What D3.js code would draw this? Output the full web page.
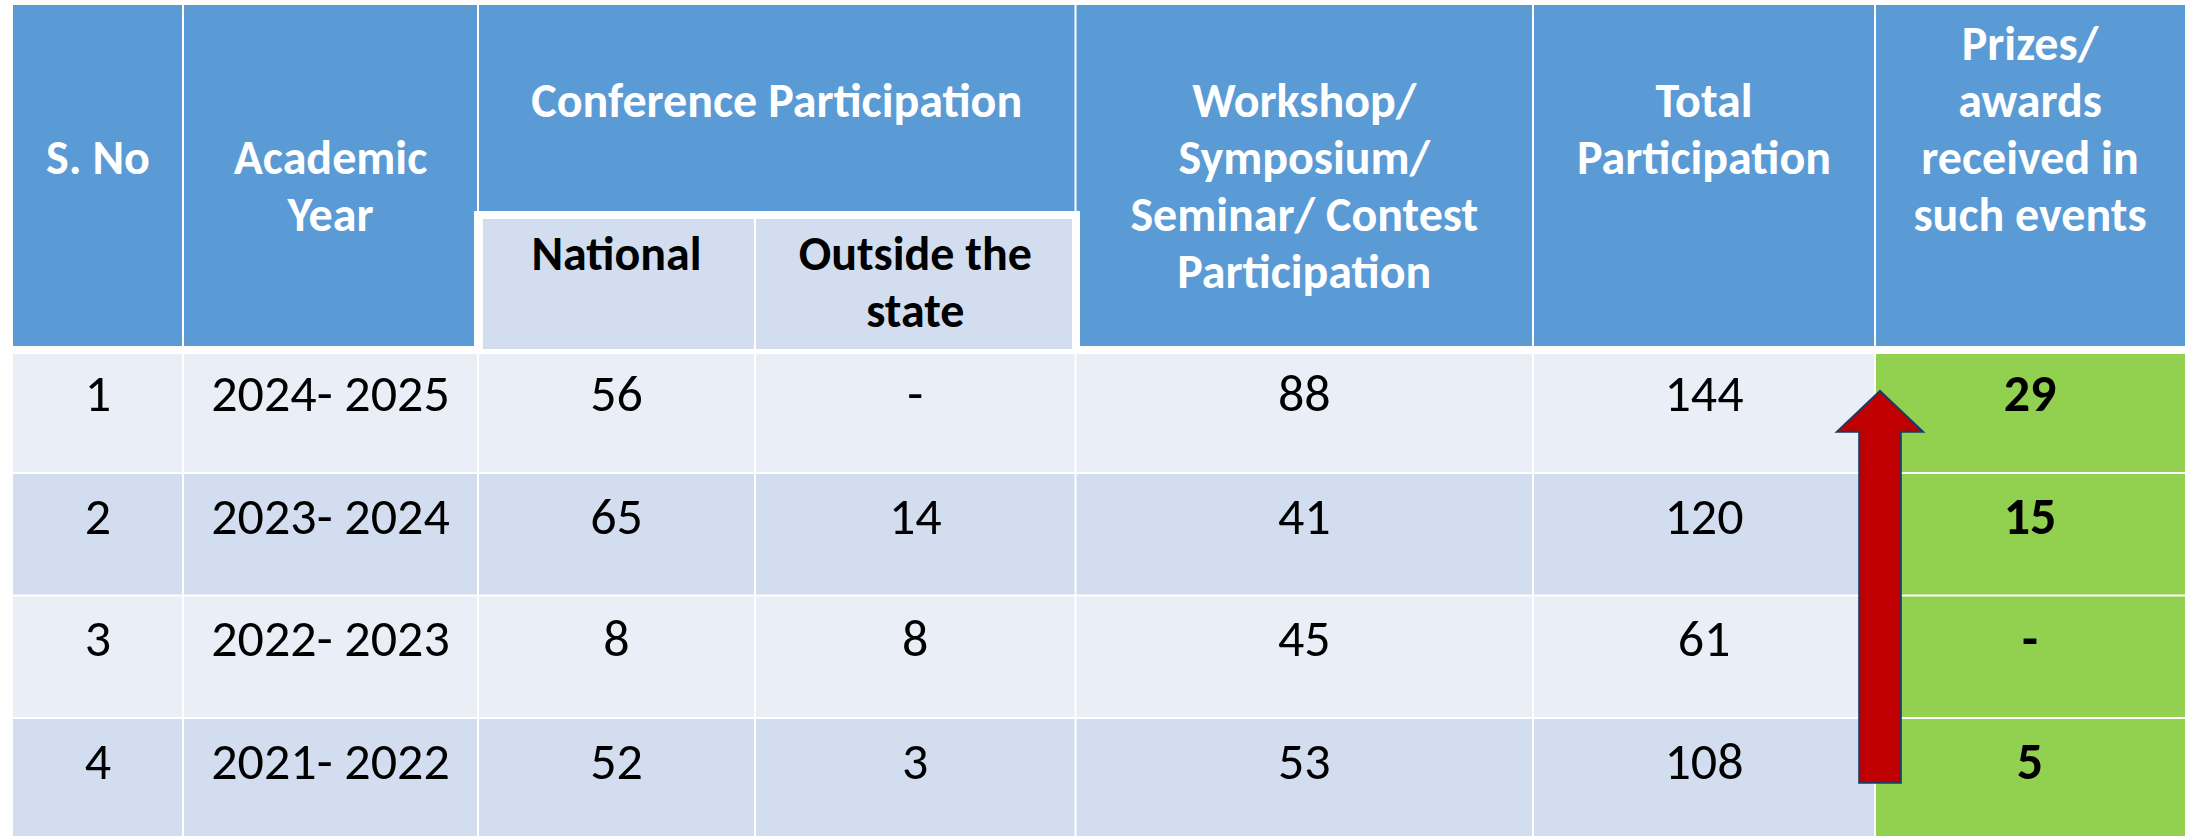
<!DOCTYPE html>
<html>
<head>
<meta charset="utf-8">
<script src="https://cdn.jsdelivr.net/npm/d3@7/dist/d3.min.js"></script>
<style>
  html, body { margin: 0; padding: 0; background: #fff; }
  svg { display: block; }
</style>
</head>
<body>
<div id="chart"></div>
<script>
// Participation table, drawn as plain SVG cells.
// Layer order: cell fills -> subheader box -> text -> arrow on top.

const headerTitles = [
    ['S. No'],
    ['Academic', 'Year'],
    ['Conference Participation'],
    ['Workshop/', 'Symposium/', 'Seminar/ Contest', 'Participation'],
    ['Total', 'Participation'],
    ['Prizes/', 'awards', 'received in', 'such events'],
];
const subHeaderTitles = [['National'], ['Outside the', 'state']];

const serialNo = ['1', '2', '3', '4'];
const academicYear = ['2024- 2025', '2023- 2024', '2022- 2023', '2021- 2022'];
const national = ['56', '65', '8', '52'];
const outsideState = ['-', '14', '8', '3'];
const workshop = ['88', '41', '45', '53'];
const totalParticipation = ['144', '120', '61', '108'];
const prizes = ['29', '15', '-', '5'];

const COLORS = {
    header: '#5B9BD5',
    rowLight: '#E9EEF7',
    rowDark: '#D2DEEF',
    sub: '#D2DEEF',
    prize: '#92D050',
    arrow: '#C00000',
    arrowStroke: '#1F3864',
};

const W = 2193, H = 836;
// column edges (line centres) for the body / leaf columns
const colEdges = [13, 183, 478, 755, 1075.5, 1533, 1875, 2185];
// header spans: which leaf columns each top header covers
const headerSpan = [[0, 1], [1, 2], [2, 4], [4, 5], [5, 6], [6, 7]];
// first text line slot for each header (baseline = top + 55 + 57 * slot)
const headerLineStart = [2, 2, 1, 1, 1, 0];

const TOP = 5, HEADER_BOTTOM = 346, BODY_TOP = 354;
const LINE = 57;

// pick font size depending on which face is actually available
function hasFont(name) {
    const c = document.createElement('canvas').getContext('2d');
    c.font = '40px monospace';
    const a = c.measureText('Participation 2024').width;
    c.font = `40px "${name}", monospace`;
    return c.measureText('Participation 2024').width !== a;
}
const calibriLike = hasFont('Carlito') || hasFont('Calibri');
const FONT = calibriLike ? 'Carlito, Calibri, sans-serif' : 'Lato, "Open Sans", sans-serif';
const FS = calibriLike ? 52 : 46.5;
// header text is set a size smaller than the body figures
const BOLD_FS = calibriLike ? 48 : 43;
const BOLD_LS = calibriLike ? 0 : -0.5;

const svg = d3.select('#chart').append('svg')
    .attr('width', W).attr('height', H)
    .attr('viewBox', `0 0 ${W} ${H}`)
    .style('font-family', FONT);

svg.append('rect').attr('width', W).attr('height', H).attr('fill', '#fff');

const y = d3.scaleLinear().domain([0, 4]).range([350.5, 840.5]);
const x = (i) => colEdges[i];

// header cells
const headG = svg.append('g').attr('class', 'header');
headG.selectAll('rect')
    .data(headerSpan)
    .enter().append('rect')
    .attr('x', (d) => d[0] === 0 ? x(0) : x(d[0]) + 1)
    .attr('y', TOP)
    .attr('width', (d) => (d[1] === 7 ? x(7) : x(d[1]) - 1) - (d[0] === 0 ? x(0) : x(d[0]) + 1))
    .attr('height', HEADER_BOTTOM - TOP)
    .attr('fill', COLORS.header);

// body cells
const columns = [serialNo, academicYear, national, outsideState, workshop, totalParticipation, prizes];
const cells = [];
columns.forEach((col, c) => col.forEach((v, r) => cells.push({ c, r, v })));

const bodyG = svg.append('g').attr('class', 'body');
bodyG.selectAll('rect')
    .data(cells)
    .enter().append('rect')
    .attr('x', (d) => d.c === 0 ? x(0) : x(d.c) + 1)
    .attr('y', (d) => d.r === 0 ? BODY_TOP : y(d.r) + 1)
    .attr('width', (d) => (d.c === 6 ? x(7) : x(d.c + 1) - 1) - (d.c === 0 ? x(0) : x(d.c) + 1))
    .attr('height', (d) => (y(d.r + 1) - 1) - (d.r === 0 ? BODY_TOP : y(d.r) + 1))
    .attr('fill', (d) => d.c === 6 ? COLORS.prize : (d.r % 2 === 0 ? COLORS.rowLight : COLORS.rowDark));

// subheader box with its thick white frame
const subG = svg.append('g').attr('class', 'subheader');
subG.append('rect')
    .attr('x', 474).attr('y', 211)
    .attr('width', 1080 - 474).attr('height', 352 - 211)
    .attr('fill', '#fff');
const subEdges = [483, x(3), 1072];
subG.selectAll('rect.sub')
    .data(subHeaderTitles)
    .enter().append('rect')
    .attr('class', 'sub')
    .attr('x', (d, i) => i === 0 ? subEdges[0] : subEdges[1] + 1)
    .attr('y', 219)
    .attr('width', (d, i) => i === 0 ? subEdges[1] - 1 - subEdges[0] : subEdges[2] - subEdges[1] - 1)
    .attr('height', 349 - 219)
    .attr('fill', COLORS.sub);

// header text
const centre = (a, b) => (x(a) + x(b)) / 2;
headG.selectAll('text')
    .data(headerTitles)
    .enter().append('text')
    .attr('text-anchor', 'middle')
    .attr('font-size', BOLD_FS)
    .attr('letter-spacing', BOLD_LS)
    .attr('font-weight', 'bold')
    .attr('fill', '#fff')
    .each(function (lines, i) {
        const cx = centre(headerSpan[i][0], headerSpan[i][1]);
        d3.select(this).selectAll('tspan')
            .data(lines)
            .enter().append('tspan')
            .attr('x', cx)
            .attr('y', (l, k) => TOP + 55 + LINE * (headerLineStart[i] + k))
            .text((l) => l);
    });

subG.selectAll('text')
    .data(subHeaderTitles)
    .enter().append('text')
    .attr('text-anchor', 'middle')
    .attr('font-size', BOLD_FS)
    .attr('letter-spacing', BOLD_LS)
    .attr('font-weight', 'bold')
    .attr('fill', '#000')
    .each(function (lines, i) {
        const cx = centre(2 + i, 3 + i);
        d3.select(this).selectAll('tspan')
            .data(lines)
            .enter().append('tspan')
            .attr('x', cx)
            .attr('y', (l, k) => 270 + LINE * k)
            .text((l) => l);
    });

// body text
bodyG.selectAll('text')
    .data(cells)
    .enter().append('text')
    .attr('x', (d) => centre(d.c, d.c + 1))
    .attr('y', (d) => y(d.r) + 60.5)
    .attr('text-anchor', 'middle')
    .attr('font-size', FS)
    .attr('font-weight', (d) => d.c === 6 ? 'bold' : 'normal')
    .attr('fill', '#000')
    .text((d) => d.v);

// upward arrow straddling the Total / Prizes border
const ax = x(6) + 5, tipY = 391, headY = 431.7, baseY = 782.7;
const shaftHalf = 20.8, headHalf = 43;
const arrowPts = [
    [ax, tipY], [ax + headHalf, headY], [ax + shaftHalf, headY], [ax + shaftHalf, baseY],
    [ax - shaftHalf, baseY], [ax - shaftHalf, headY], [ax - headHalf, headY],
];
svg.append('path')
    .attr('d', d3.line()(arrowPts) + 'Z')
    .attr('fill', COLORS.arrow)
    .attr('stroke', COLORS.arrowStroke)
    .attr('stroke-width', 2)
    .attr('stroke-linejoin', 'miter');
</script>
</body>
</html>
